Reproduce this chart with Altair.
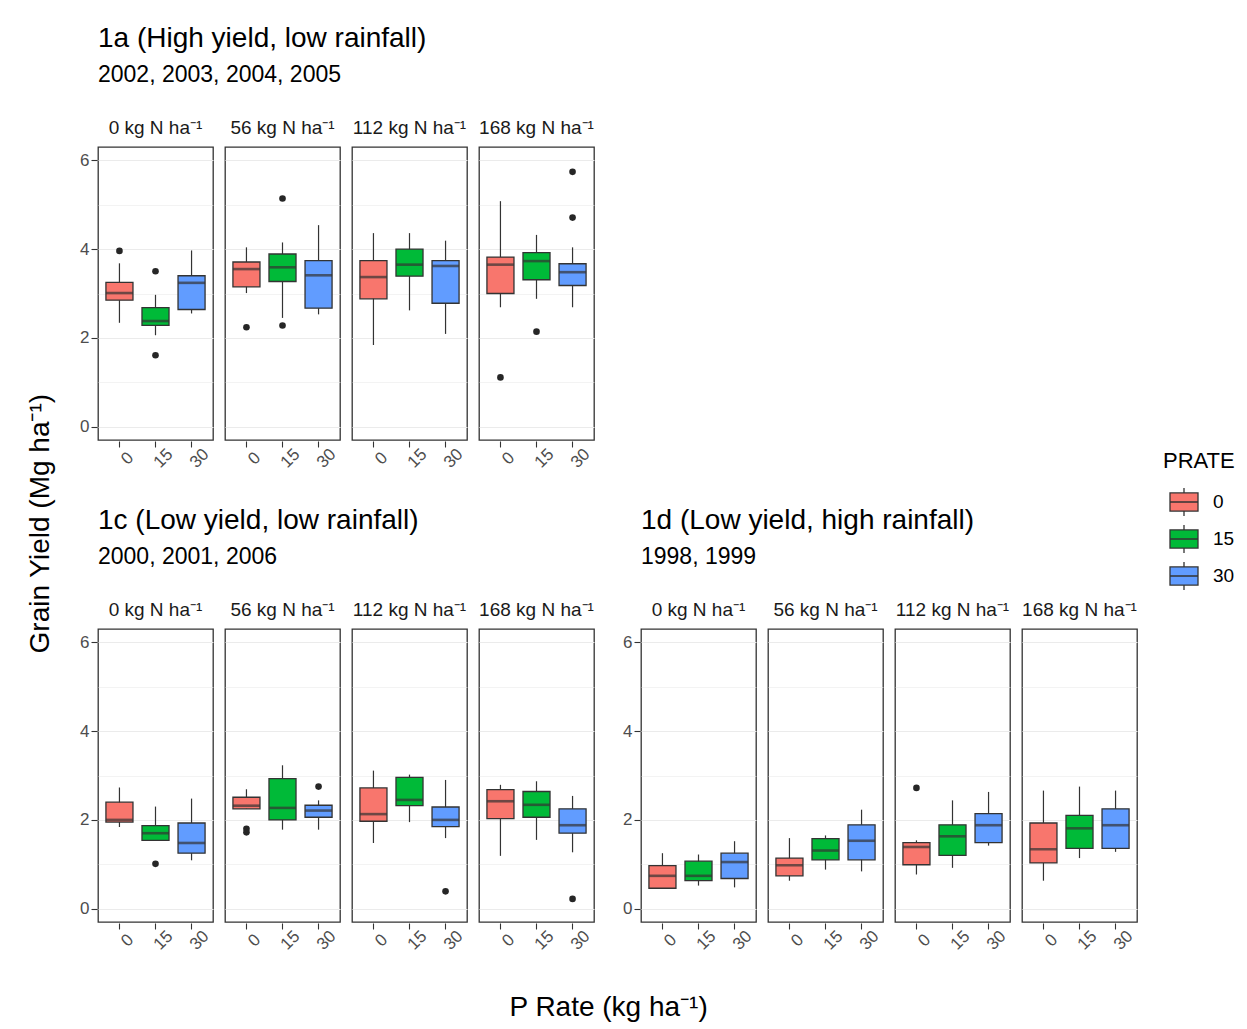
import altair as alt
import pandas as pd
import numpy as np

PRATE = ["0", "15", "30"]
N_LABELS = ["0 kg N ha\u207b\u00b9", "56 kg N ha\u207b\u00b9", "112 kg N ha\u207b\u00b9", "168 kg N ha\u207b\u00b9"]
COLORS = ["#F8766D", "#00BA38", "#619CFF"]

# ---- 1a (High yield, low rainfall) : order N-major, P 0/15/30 within
A_LO  = [2.34, 2.06, 2.55, 3.01, 2.45, 2.53, 1.84, 2.62, 2.09, 2.69, 2.88, 2.69]
A_Q1  = [2.85, 2.28, 2.64, 3.15, 3.27, 2.67, 2.88, 3.39, 2.78, 3.00, 3.31, 3.18]
A_MED = [3.01, 2.38, 3.24, 3.55, 3.59, 3.41, 3.37, 3.65, 3.62, 3.65, 3.73, 3.48]
A_Q3  = [3.25, 2.68, 3.40, 3.71, 3.89, 3.74, 3.74, 4.00, 3.74, 3.82, 3.92, 3.67]
A_HI  = [3.68, 2.97, 3.97, 4.04, 4.15, 4.54, 4.36, 4.36, 4.19, 5.08, 4.32, 4.04]
A_OUT_N = [0, 0, 0, 1, 1, 1, 3, 3, 3, 3]
A_OUT_P = ["0", "15", "15", "0", "15", "15", "0", "15", "30", "30"]
A_OUT_V = [3.96, 3.50, 1.61, 2.24, 5.14, 2.28, 1.11, 2.14, 5.74, 4.71]

# ---- 1c (Low yield, low rainfall)
C_LO  = [1.84, 1.54, 1.09, 2.25, 1.78, 1.78, 1.48, 1.95, 1.59, 1.19, 1.55, 1.27]
C_Q1  = [1.95, 1.54, 1.25, 2.25, 2.00, 2.06, 1.97, 2.32, 1.85, 2.03, 2.06, 1.70]
C_MED = [2.00, 1.70, 1.48, 2.32, 2.27, 2.21, 2.13, 2.45, 2.00, 2.42, 2.34, 1.88]
C_Q3  = [2.40, 1.87, 1.93, 2.51, 2.93, 2.33, 2.72, 2.96, 2.29, 2.68, 2.64, 2.25]
C_HI  = [2.73, 2.30, 2.48, 2.69, 3.23, 2.44, 3.11, 3.02, 2.90, 2.79, 2.87, 2.54]
C_OUT_N = [0, 1, 1, 1, 2, 3]
C_OUT_P = ["15", "0", "0", "30", "30", "30"]
C_OUT_V = [1.01, 1.80, 1.72, 2.75, 0.39, 0.22]

# ---- 1d (Low yield, high rainfall)
D_LO  = [0.46, 0.52, 0.48, 0.63, 0.88, 0.84, 0.77, 0.92, 1.42, 0.63, 1.14, 1.28]
D_Q1  = [0.46, 0.63, 0.68, 0.74, 1.10, 1.10, 0.99, 1.20, 1.49, 1.03, 1.36, 1.36]
D_MED = [0.74, 0.74, 1.05, 0.98, 1.31, 1.53, 1.39, 1.63, 1.88, 1.34, 1.81, 1.88]
D_Q3  = [0.97, 1.07, 1.25, 1.14, 1.58, 1.89, 1.49, 1.89, 2.14, 1.93, 2.10, 2.25]
D_HI  = [1.25, 1.22, 1.52, 1.59, 1.65, 2.23, 1.54, 2.44, 2.63, 2.66, 2.75, 2.66]
D_OUT_N = [2]
D_OUT_P = ["0"]
D_OUT_V = [2.72]

FONT = "Liberation Sans"
EVEN = "datum.value % 2 === 0"


def make_df(lo, q1, med, q3, hi, on, op, ov):
    rows = []
    for i, n in enumerate(N_LABELS):
        for j, p in enumerate(PRATE):
            k = i * 3 + j
            rows.append(dict(N=n, P=p, lo=lo[k], q1=q1[k], med=med[k], q3=q3[k], hi=hi[k], out=np.nan))
    for n, p, v in zip(on, op, ov):
        rows.append(dict(N=N_LABELS[n], P=p, lo=np.nan, q1=np.nan, med=np.nan, q3=np.nan, hi=np.nan, out=v))
    return pd.DataFrame(rows)


def block(df, title, subtitle):
    yscale = alt.Scale(domain=[-0.3, 6.3], nice=False, zero=False)
    yaxis = alt.Axis(
        values=[0, 1, 2, 3, 4, 5, 6],
        labelExpr=EVEN + " ? datum.label : ''",
        tickColor={"condition": {"test": EVEN, "value": "#333333"}, "value": "transparent"},
        gridColor="#EBEBEB",
        gridWidth={"condition": {"test": EVEN, "value": 1.2}, "value": 0.6},
        domain=False, tickSize=6, tickWidth=1.1, labelFontSize=17, labelColor="#4D4D4D",
        labelPadding=2, title=None,
    )
    xscale = alt.Scale(domain=PRATE, paddingInner=0.25, paddingOuter=0.22)
    xaxis = alt.Axis(
        labelAngle=315, labelAlign="center", labelBaseline="middle", labelPadding=11,
        labelOffset=8, labelFontSize=17, labelColor="#4D4D4D", tickSize=6, tickWidth=1.1,
        tickColor="#333333", gridColor="#EBEBEB", gridWidth=1.2, domain=False,
        bandPosition=0.5, title=None,
    )
    x = alt.X("P:N", sort=PRATE, scale=xscale, axis=xaxis)
    summ = "isValid(datum.med)"
    whisk = alt.Chart().mark_rule(color="#333333", strokeWidth=1.2).encode(
        x=x, y=alt.Y("lo:Q", scale=yscale, axis=yaxis), y2="hi:Q"
    ).transform_filter(summ)
    box = alt.Chart().mark_bar(stroke="#333333", strokeWidth=1.3).encode(
        x=x, y=alt.Y("q1:Q", scale=yscale, axis=yaxis), y2="q3:Q",
        fill=alt.Color("P:N", sort=PRATE, scale=alt.Scale(domain=PRATE, range=COLORS),
                       legend=alt.Legend(
                           title="PRATE", orient="none", legendX=1065, legendY=304,
                           symbolType="M-1,-0.65H1V0.65H-1Z M-1,0H1 M0,-0.65V-1 M0,0.65V1",
                           symbolSize=784, symbolStrokeColor="#333333", symbolStrokeWidth=1.3,
                           symbolOffset=6,
                           titleFontSize=22, titleFontWeight="normal", titleColor="black",
                           labelFontSize=19, labelColor="black", rowPadding=3, titlePadding=14,
                           labelOffset=14)),
    ).transform_filter(summ)
    med = alt.Chart().mark_tick(color="#333333", thickness=2.6, size=27).encode(
        x=x, y=alt.Y("med:Q", scale=yscale, axis=yaxis)
    ).transform_filter(summ)
    pts = alt.Chart().mark_circle(size=44, color="#262626", opacity=1).encode(
        x=x, y=alt.Y("out:Q", scale=yscale, axis=yaxis)
    ).transform_filter("isValid(datum.out)")
    layered = alt.layer(whisk, box, med, pts, data=df).properties(width=115, height=293)
    return layered.facet(
        column=alt.Column("N:N", sort=N_LABELS,
                          header=alt.Header(title=None, labelFontSize=19, labelColor="#1A1A1A",
                                            labelPadding=8, labelFont=FONT)),
        spacing=10,
    ).properties(title=alt.TitleParams(
        title, subtitle=subtitle, anchor="start", frame="group", fontSize=28,
        subtitleFontSize=23, fontWeight="normal", color="black", subtitleColor="black",
        subtitlePadding=11, offset=32, font=FONT, subtitleFont=FONT))


b1a = block(make_df(A_LO, A_Q1, A_MED, A_Q3, A_HI, A_OUT_N, A_OUT_P, A_OUT_V),
            "1a (High yield, low rainfall)", "2002, 2003, 2004, 2005")
b1c = block(make_df(C_LO, C_Q1, C_MED, C_Q3, C_HI, C_OUT_N, C_OUT_P, C_OUT_V),
            "1c (Low yield, low rainfall)", "2000, 2001, 2006")
b1d = block(make_df(D_LO, D_Q1, D_MED, D_Q3, D_HI, D_OUT_N, D_OUT_P, D_OUT_V),
            "1d (Low yield, high rainfall)", "1998, 1999")

row1 = alt.hconcat(b1a)
row2 = alt.hconcat(b1c, b1d, spacing=27)
inner = alt.vconcat(row1, row2, spacing=36).properties(
    title=alt.TitleParams("P Rate (kg ha\u207b\u00b9)", orient="bottom", anchor="middle",
                          fontSize=28, fontWeight="normal", color="black", offset=42, font=FONT))
chart = alt.hconcat(inner).properties(
    title=alt.TitleParams("Grain Yield (Mg ha\u207b\u00b9)", orient="left", anchor="middle",
                          fontSize=28, fontWeight="normal", color="black", offset=25, font=FONT),
    padding={"left": 18, "top": 17, "right": 0, "bottom": 2},
).configure(font=FONT).configure_view(stroke="#333333", strokeWidth=1.3)

chart.save("out.html", embed_options={"renderer": "svg", "actions": False})
